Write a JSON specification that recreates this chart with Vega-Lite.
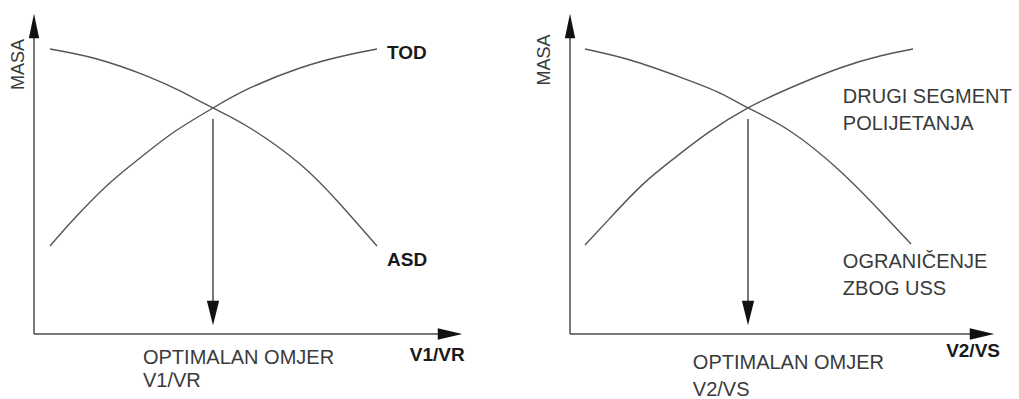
{
  "$schema": "https://vega.github.io/schema/vega-lite/v6.json",
  "padding": {"left": 10, "top": 13, "right": 0, "bottom": 0},
  "background": "white",
  "spacing": 107,
  "bounds": "flush",
  "config": {"view": {"stroke": null}},
  "datasets": {
    "curves": [
      {"panel": "L", "series": "ASD", "i": 1, "x": 3.73, "y": 89.06},
      {"panel": "L", "series": "ASD", "i": 2, "x": 14.69, "y": 85.94},
      {"panel": "L", "series": "ASD", "i": 3, "x": 26.34, "y": 80.6},
      {"panel": "L", "series": "ASD", "i": 4, "x": 34.03, "y": 75.94},
      {"panel": "L", "series": "ASD", "i": 5, "x": 41.72, "y": 70.63},
      {"panel": "L", "series": "ASD", "i": 6, "x": 50.35, "y": 64.38},
      {"panel": "L", "series": "ASD", "i": 7, "x": 62.0, "y": 53.13},
      {"panel": "L", "series": "ASD", "i": 8, "x": 71.33, "y": 40.63},
      {"panel": "L", "series": "ASD", "i": 9, "x": 79.95, "y": 27.5},
      {"panel": "L", "series": "TOD", "i": 1, "x": 3.73, "y": 27.5},
      {"panel": "L", "series": "TOD", "i": 2, "x": 9.09, "y": 35.6},
      {"panel": "L", "series": "TOD", "i": 3, "x": 17.02, "y": 46.4},
      {"panel": "L", "series": "TOD", "i": 4, "x": 24.71, "y": 55.0},
      {"panel": "L", "series": "TOD", "i": 5, "x": 32.4, "y": 62.9},
      {"panel": "L", "series": "TOD", "i": 6, "x": 41.72, "y": 70.63},
      {"panel": "L", "series": "TOD", "i": 7, "x": 50.35, "y": 76.88},
      {"panel": "L", "series": "TOD", "i": 8, "x": 62.0, "y": 83.13},
      {"panel": "L", "series": "TOD", "i": 9, "x": 72.03, "y": 86.88},
      {"panel": "L", "series": "TOD", "i": 10, "x": 79.95, "y": 89.06},
      {"panel": "R", "series": "USS", "i": 1, "x": 3.53, "y": 89.06},
      {"panel": "R", "series": "USS", "i": 2, "x": 14.12, "y": 85.63},
      {"panel": "R", "series": "USS", "i": 3, "x": 25.88, "y": 80.3},
      {"panel": "R", "series": "USS", "i": 4, "x": 35.29, "y": 75.31},
      {"panel": "R", "series": "USS", "i": 5, "x": 41.88, "y": 70.63},
      {"panel": "R", "series": "USS", "i": 6, "x": 51.76, "y": 63.44},
      {"panel": "R", "series": "USS", "i": 7, "x": 63.53, "y": 50.94},
      {"panel": "R", "series": "USS", "i": 8, "x": 72.94, "y": 38.44},
      {"panel": "R", "series": "USS", "i": 9, "x": 80.24, "y": 28.13},
      {"panel": "R", "series": "SEG", "i": 1, "x": 3.53, "y": 27.81},
      {"panel": "R", "series": "SEG", "i": 2, "x": 9.2, "y": 35.9},
      {"panel": "R", "series": "SEG", "i": 3, "x": 17.0, "y": 46.6},
      {"panel": "R", "series": "SEG", "i": 4, "x": 24.8, "y": 55.2},
      {"panel": "R", "series": "SEG", "i": 5, "x": 32.6, "y": 63.0},
      {"panel": "R", "series": "SEG", "i": 6, "x": 41.88, "y": 70.63},
      {"panel": "R", "series": "SEG", "i": 7, "x": 51.76, "y": 76.88},
      {"panel": "R", "series": "SEG", "i": 8, "x": 63.53, "y": 83.13},
      {"panel": "R", "series": "SEG", "i": 9, "x": 72.94, "y": 86.88},
      {"panel": "R", "series": "SEG", "i": 10, "x": 80.71, "y": 89.06}
    ],
    "rules": [
      {"panel": "L", "x": 0, "y": 0, "x2": 0, "y2": 96},
      {"panel": "L", "x": 0, "y": 0, "x2": 97, "y2": 0},
      {"panel": "L", "x": 41.72, "y": 67.2, "x2": 41.72, "y2": 6},
      {"panel": "R", "x": 0, "y": 0, "x2": 0, "y2": 96},
      {"panel": "R", "x": 0, "y": 0, "x2": 97, "y2": 0},
      {"panel": "R", "x": 41.88, "y": 67.2, "x2": 41.88, "y2": 6}
    ],
    "heads": [
      {"panel": "L", "dir": "up", "x": 0, "y": 96.25},
      {"panel": "L", "dir": "right", "x": 96.97, "y": 0},
      {"panel": "L", "dir": "down", "x": 41.72, "y": 6.56},
      {"panel": "R", "dir": "up", "x": 0, "y": 96.25},
      {"panel": "R", "dir": "right", "x": 96.94, "y": 0},
      {"panel": "R", "dir": "down", "x": 41.88, "y": 6.56}
    ],
    "labels": [
      {"panel": "L", "style": "normal", "x": 25.4, "y": -9.4, "text": "OPTIMALAN OMJER"},
      {"panel": "L", "style": "normal", "x": 25.4, "y": -16.6, "text": "V1/VR"},
      {"panel": "L", "style": "bold", "x": 82.3, "y": 85.9, "text": "TOD"},
      {"panel": "L", "style": "bold", "x": 82.3, "y": 21.25, "text": "ASD"},
      {"panel": "L", "style": "bold", "x": 87.6, "y": -8.4, "text": "V1/VR"},
      {"panel": "L", "style": "axis", "x": -3.38, "y": 84.2, "text": "MASA"},
      {"panel": "R", "style": "normal", "x": 64.2, "y": 72.2, "text": "DRUGI SEGMENT"},
      {"panel": "R", "style": "normal", "x": 64.2, "y": 63.75, "text": "POLIJETANJA"},
      {"panel": "R", "style": "normal", "x": 64.2, "y": 20.6, "text": "OGRANIČENJE"},
      {"panel": "R", "style": "normal", "x": 64.2, "y": 12.2, "text": "ZBOG USS"},
      {"panel": "R", "style": "normal", "x": 28.9, "y": -10.9, "text": "OPTIMALAN OMJER"},
      {"panel": "R", "style": "normal", "x": 28.9, "y": -19.4, "text": "V2/VS"},
      {"panel": "R", "style": "bold", "x": 88.5, "y": -7.2, "text": "V2/VS"},
      {"panel": "R", "style": "axis", "x": -5.9, "y": 85.6, "text": "MASA"}
    ]
  },
  "hconcat": [
    {
      "width": 429,
      "height": 320,
      "encoding": {
        "x": {"field": "x", "type": "quantitative", "scale": {"domain": [0, 100], "nice": false, "zero": false}, "axis": null},
        "y": {"field": "y", "type": "quantitative", "scale": {"domain": [0, 100], "nice": false, "zero": false}, "axis": null}
      },
      "layer": [
        {
          "data": {"name": "rules"},
          "transform": [{"filter": "datum.panel === 'L'"}],
          "mark": {"type": "rule", "color": "#4a4a4a", "strokeWidth": 1.5},
          "encoding": {"x2": {"field": "x2"}, "y2": {"field": "y2"}}
        },
        {
          "data": {"name": "curves"},
          "transform": [{"filter": "datum.panel === 'L'"}],
          "mark": {"type": "line", "color": "#555555", "strokeWidth": 1.4, "interpolate": "natural"},
          "encoding": {"detail": {"field": "series"}, "order": {"field": "i", "type": "quantitative"}}
        },
        {
          "data": {"name": "heads"},
          "transform": [{"filter": "datum.panel === 'L'"}],
          "mark": {"type": "point", "filled": true, "color": "#111111", "opacity": 1},
          "encoding": {
            "shape": {"field": "dir", "type": "nominal", "legend": null, "scale": {"domain": ["up", "down", "right"], "range": ["M0,-1L0.42,1L-0.42,1Z", "M-0.5,-1L0.5,-1L0,1Z", "M1,0L-1,-0.46L-1,0.46Z"]}},
            "size": {"value": 600}
          }
        },
        {
          "data": {"name": "labels"},
          "transform": [{"filter": "datum.panel === 'L' && datum.style === 'normal'"}],
          "mark": {"type": "text", "align": "left", "baseline": "alphabetic", "font": "Liberation Sans", "fontSize": 20, "color": "#3a3a3a"},
          "encoding": {"text": {"field": "text"}}
        },
        {
          "data": {"name": "labels"},
          "transform": [{"filter": "datum.panel === 'L' && datum.style === 'bold'"}],
          "mark": {"type": "text", "align": "left", "baseline": "alphabetic", "font": "Liberation Sans Narrow, Liberation Sans", "fontWeight": "bold", "fontSize": 19, "color": "#1a1a1a"},
          "encoding": {"text": {"field": "text"}}
        },
        {
          "data": {"name": "labels"},
          "transform": [{"filter": "datum.panel === 'L' && datum.style === 'axis'"}],
          "mark": {"type": "text", "align": "center", "baseline": "middle", "angle": 270, "font": "Liberation Sans", "fontSize": 18, "color": "#3a3a3a"},
          "encoding": {"text": {"field": "text"}}
        }
      ]
    },
    {
      "width": 425,
      "height": 320,
      "encoding": {
        "x": {"field": "x", "type": "quantitative", "scale": {"domain": [0, 100], "nice": false, "zero": false}, "axis": null},
        "y": {"field": "y", "type": "quantitative", "scale": {"domain": [0, 100], "nice": false, "zero": false}, "axis": null}
      },
      "layer": [
        {
          "data": {"name": "rules"},
          "transform": [{"filter": "datum.panel === 'R'"}],
          "mark": {"type": "rule", "color": "#4a4a4a", "strokeWidth": 1.5},
          "encoding": {"x2": {"field": "x2"}, "y2": {"field": "y2"}}
        },
        {
          "data": {"name": "curves"},
          "transform": [{"filter": "datum.panel === 'R'"}],
          "mark": {"type": "line", "color": "#555555", "strokeWidth": 1.4, "interpolate": "natural"},
          "encoding": {"detail": {"field": "series"}, "order": {"field": "i", "type": "quantitative"}}
        },
        {
          "data": {"name": "heads"},
          "transform": [{"filter": "datum.panel === 'R'"}],
          "mark": {"type": "point", "filled": true, "color": "#111111", "opacity": 1},
          "encoding": {
            "shape": {"field": "dir", "type": "nominal", "legend": null, "scale": {"domain": ["up", "down", "right"], "range": ["M0,-1L0.42,1L-0.42,1Z", "M-0.5,-1L0.5,-1L0,1Z", "M1,0L-1,-0.46L-1,0.46Z"]}},
            "size": {"value": 600}
          }
        },
        {
          "data": {"name": "labels"},
          "transform": [{"filter": "datum.panel === 'R' && datum.style === 'normal'"}],
          "mark": {"type": "text", "align": "left", "baseline": "alphabetic", "font": "Liberation Sans", "fontSize": 20, "color": "#3a3a3a"},
          "encoding": {"text": {"field": "text"}}
        },
        {
          "data": {"name": "labels"},
          "transform": [{"filter": "datum.panel === 'R' && datum.style === 'bold'"}],
          "mark": {"type": "text", "align": "left", "baseline": "alphabetic", "font": "Liberation Sans Narrow, Liberation Sans", "fontWeight": "bold", "fontSize": 19, "color": "#1a1a1a"},
          "encoding": {"text": {"field": "text"}}
        },
        {
          "data": {"name": "labels"},
          "transform": [{"filter": "datum.panel === 'R' && datum.style === 'axis'"}],
          "mark": {"type": "text", "align": "center", "baseline": "middle", "angle": 270, "font": "Liberation Sans", "fontSize": 18, "color": "#3a3a3a"},
          "encoding": {"text": {"field": "text"}}
        }
      ]
    }
  ]
}
